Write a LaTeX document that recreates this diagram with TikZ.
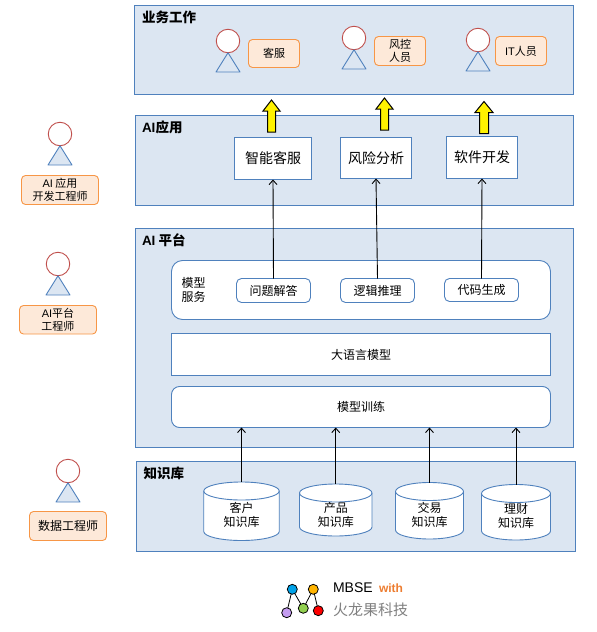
\documentclass[tikz,border=0pt]{standalone}
\usepackage{fontspec}
\setmainfont{Noto Sans CJK SC}
\newfontfamily\lat{Liberation Sans}
\usetikzlibrary{arrows.meta}
\definecolor{panelfill}{HTML}{DCE6F2}
\definecolor{panelline}{HTML}{4F81BD}
\definecolor{tagfill}{HTML}{FDE9D9}
\definecolor{tagline}{HTML}{F79646}
\definecolor{headline}{HTML}{C0504D}
\definecolor{ballblue}{HTML}{00A2E8}
\definecolor{ballorange}{HTML}{FFB400}
\definecolor{ballgreen}{HTML}{92D050}
\definecolor{ballpurple}{HTML}{C49CF0}
\definecolor{withorange}{HTML}{ED7D31}
\newcommand{\fs}[2]{\fontsize{#1}{#2}\selectfont}
\tikzset{
  x=1pt,y=-1pt,
  every node/.style={inner sep=0pt,outer sep=0pt,align=center,text=black},
  panel/.style={draw=panelline,fill=panelfill,line width=0.9pt},
  paneltitle/.style={anchor=west,font=\fs{13.5}{15}\bfseries},
  wbox/.style={draw=panelline,fill=white,line width=0.9pt},
  rbox/.style={wbox,rounded corners=5pt},
  bigrbox/.style={wbox,rounded corners=11pt},
  tag/.style={draw=tagline,fill=tagfill,line width=0.9pt,rounded corners=4pt},
  head/.style={circle,draw=headline,fill=white,line width=0.9pt,minimum size=23.5pt},
  body/.style={draw=panelline,fill=panelfill,line width=0.9pt,line join=round},
  conn/.style={draw=black,line width=0.9pt,-{Straight Barb[length=4.5pt,width=8pt]}},
  yarrow/.style={draw=black,fill=yellow,line width=1pt,line join=miter},
  logoball/.style={circle,draw=black,line width=0.8pt,minimum size=10pt},
}
\newcommand{\actor}[3]{% name, head centre x, head centre y; body is under the head
  \node[head] (#1) at (#2,#3) {};
  \draw[body] (#2,#3+11.75) -- (#2+12,#3+31) -- (#2-12,#3+31) -- cycle;
}
\newcommand{\upblock}[4]{% x, bottom, top, half width of shaft
  \draw[yarrow] (#1-#4,#2) -- (#1-#4,#3+11) -- (#1-#4-4.5,#3+11) -- (#1,#3) -- (#1+#4+4.5,#3+11) -- (#1+#4,#3+11) -- (#1+#4,#2) -- cycle;
}
\newcommand{\storedb}[7]{% name, centre x, top, bottom, half width, text centre y, text
  \draw[wbox] (#2-#5,#3+9) -- (#2-#5,#4-9)
    arc[start angle=180,end angle=360,x radius=#5pt,y radius=9pt]
    -- (#2+#5,#3+9)
    arc[start angle=0,end angle=180,x radius=#5pt,y radius=9pt] -- cycle;
  \draw[wbox,fill=none] (#2-#5,#3+9) arc[start angle=180,end angle=360,x radius=#5pt,y radius=9pt];
  \node[minimum width=2*#5 pt,minimum height=#4pt-#3pt] (#1) at (#2,{(#3+#4)/2}) {};
  \node[font=\fs{12}{14}] (#1t) at (#2,#6) {#7};
}
\begin{document}
\begin{tikzpicture}
\useasboundingbox (0,0) rectangle (597,632);
% panels
\node[panel,minimum width=439pt,minimum height=89pt] (biz) at (354,50) {};
\node[panel,minimum width=438pt,minimum height=90pt] (app) at (354,160.5) {};
\node[panel,minimum width=438pt,minimum height=219pt] (plat) at (354.5,338) {};
\node[panel,minimum width=438.5pt,minimum height=90pt] (kb) at (355.75,506.5) {};
\node[paneltitle] (t1) at (142,17) {业务工作};
\node[paneltitle] (t2) at (142,127) {{\lat\bfseries AI}应用};
\node[paneltitle] (t3) at (142,240) {{\lat\bfseries AI} 平台};
\node[paneltitle] (t4) at (143.5,473) {知识库};
% business actors
\actor{a1}{228}{41}
\actor{a2}{354}{38}
\actor{a3}{478}{40}
\node[tag,minimum width=51pt,minimum height=28pt,font=\fs{11}{13}] (tk) at (274,53.5) {客服};
\node[tag,minimum width=51pt,minimum height=29pt,font=\fs{11}{13}] (tf) at (400,51) {风控\\人员};
\node[tag,minimum width=51pt,minimum height=29pt,font=\fs{11}{13}] (ti) at (521,51) {{\lat IT}人员};
% block arrows
\upblock{271.5}{132}{100}{4}
\upblock{384.5}{130}{98}{4}
\upblock{484}{133.5}{101.5}{4.5}
% app boxes
\node[wbox,minimum width=77pt,minimum height=42pt,font=\fs{14}{16}] (zn) at (273,158.5) {智能客服};
\node[wbox,minimum width=71pt,minimum height=41pt,font=\fs{14}{16}] (fx) at (376,158) {风险分析};
\node[wbox,minimum width=71pt,minimum height=42pt,font=\fs{14}{16}] (rj) at (482,157.5) {软件开发};
% platform
\node[bigrbox,minimum width=379pt,minimum height=59pt] (svc) at (361,290) {};
\node[font=\fs{12}{14}] (svct) at (193.5,290) {模型\\服务};
\node[rbox,minimum width=74pt,minimum height=24pt,font=\fs{12}{14}] (q1) at (273.5,290.5) {问题解答};
\node[rbox,minimum width=74pt,minimum height=24pt,font=\fs{12}{14}] (q2) at (377.5,290.5) {逻辑推理};
\node[rbox,minimum width=74pt,minimum height=23pt,font=\fs{12}{14}] (q3) at (481.5,290) {代码生成};
\node[wbox,minimum width=379pt,minimum height=42pt,font=\fs{12}{14}] (llm) at (361,354.5) {大语言模型};
\node[bigrbox,rounded corners=8pt,minimum width=379pt,minimum height=41pt,font=\fs{12}{14}] (train) at (361,407) {模型训练};
\draw[conn] (q1.north) -- (zn.south);
\draw[conn] (q2.north) -- (fx.south);
\draw[conn] (q3.north) -- (rj.south);
% stores
\storedb{c1}{241.5}{482}{540.5}{37.75}{514.5}{客户\\知识库}
\storedb{c2}{335.75}{484}{536}{36.25}{514.5}{产品\\知识库}
\storedb{c3}{429.5}{482.5}{539}{34}{514.5}{交易\\知识库}
\storedb{c4}{516}{484.5}{540}{34.5}{516}{理财\\知识库}
\draw[conn] (c1.north) -- (c1.north |- train.south);
\draw[conn] (c2.north) -- (c2.north |- train.south);
\draw[conn] (c3.north) -- (c3.north |- train.south);
\draw[conn] (c4.north) -- (c4.north |- train.south);
% engineers
\actor{e1}{60}{134}
\actor{e2}{58}{264}
\actor{e3}{68}{471}
\node[tag,minimum width=77pt,minimum height=29pt,font=\fs{11}{13}] (l1) at (60,190) {{\lat AI} 应用\\开发工程师};
\node[tag,minimum width=77pt,minimum height=28.5pt,font=\fs{11}{13}] (l2) at (58,319.75) {{\lat AI}平台\\工程师};
\node[tag,minimum width=77pt,minimum height=29pt,font=\fs{12}{14}] (l3) at (68,526) {数据工程师};
% logo
\draw[black,line width=0.8pt] (286.7,612.7) -- (292.3,589.3) -- (303.3,608.3) -- (313.3,589.3) -- (318.3,610.7);
\node[logoball,fill=ballblue] (b1) at (292.3,589.3) {};
\node[logoball,fill=ballorange] (b2) at (313.3,589.3) {};
\node[logoball,fill=ballgreen] (b3) at (303.3,608.3) {};
\node[logoball,fill=red] (b4) at (318.3,610.7) {};
\node[logoball,fill=ballpurple] (b5) at (286.7,612.7) {};
\node[anchor=west,font=\fs{14}{16}\lat] (m1) at (333,588) {MBSE};
\node[anchor=west,font=\fs{12}{14}\lat\bfseries,text=withorange] (m2) at (379,588.5) {with};
\node[anchor=west,font=\fs{15}{17},text=black!50] (m3) at (333,610) {火龙果科技};
\end{tikzpicture}
\end{document}
